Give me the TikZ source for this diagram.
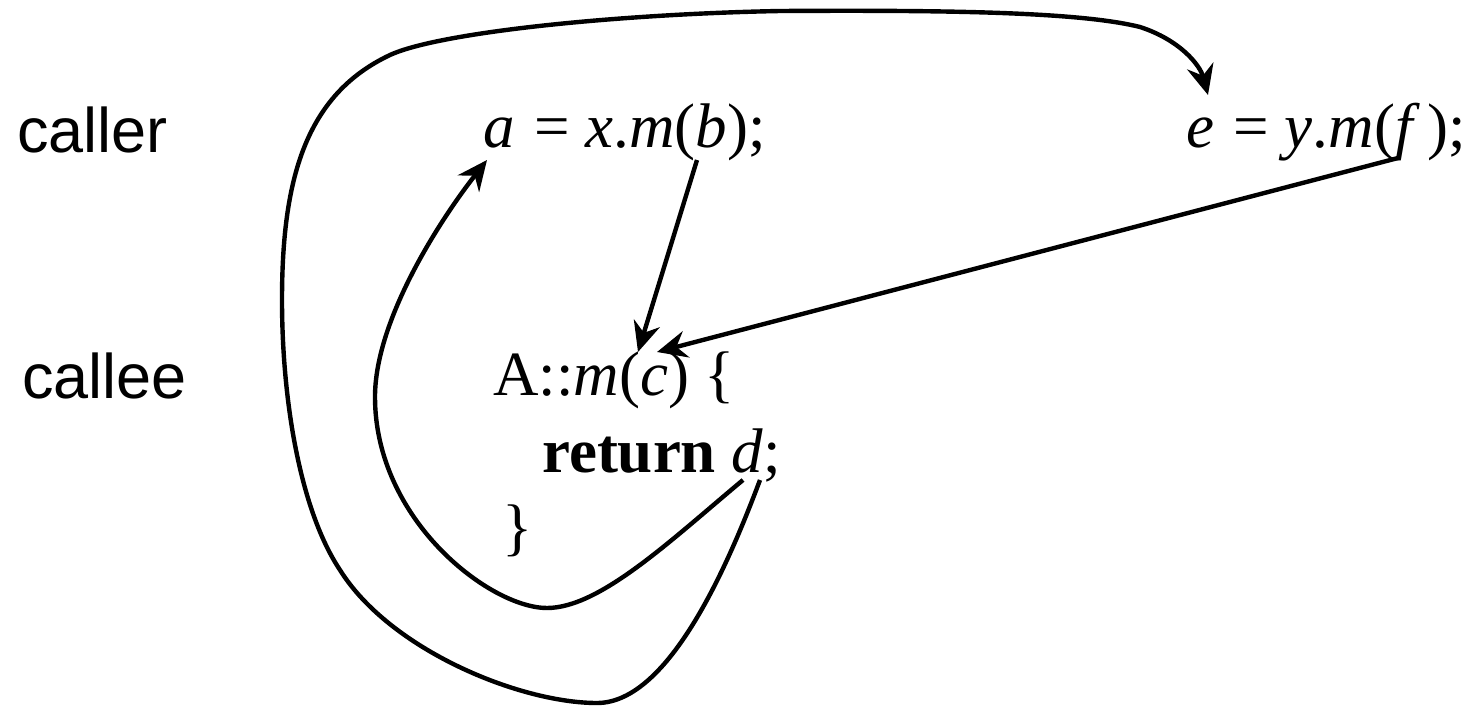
\documentclass[tikz,border=0pt]{standalone}
\usepackage{fontspec}
\setmainfont{Liberation Serif}
\newfontfamily\labelfont{Liberation Sans}
\usetikzlibrary{arrows.meta}
\tikzset{
  codetext/.style={anchor=base west, inner sep=0pt, font=\fontsize{63}{76}\selectfont},
  sidetext/.style={anchor=base west, inner sep=0pt, font=\labelfont\fontsize{63}{76}\selectfont},
  flow/.style={line width=4.4pt, -{Stealth[length=30pt, width=27pt, inset=10pt]}},
}
\begin{document}
\begin{tikzpicture}[x=1pt, y=-1pt]
\useasboundingbox (0,0) rectangle (1473,707);
% labels
\node[sidetext] (caller) at (17,152) {caller};
\node[sidetext] (callee) at (22,398) {callee};
% caller code
\node[codetext] (call1) at (483,147) {\textit{a}\kern0.06em{} = \textit{x}.\textit{m}(\textit{b});};
\node[codetext] (call2) at (1186,147) {\textit{e}\kern0.06em{} = \textit{y}.\textit{m}(\textit{f}\kern0.12em);};
% callee code
\node[codetext] (head) at (493,395) {A::\textit{m}(\textit{c}) \{};
\node[codetext] (ret) at (542,472) {\textbf{return} \textit{d};};
\node[codetext] (close) at (502,548) {\}};
% endpoints
\coordinate (aIn) at (487,160);
\coordinate (bOut) at (697,160);
\coordinate (cIn1) at (638,352);
\coordinate (cIn2) at (657,352);
\coordinate (fOut) at (1398,158);
\coordinate (dOut1) at (743,480);
\coordinate (dOut2) at (760,480);
\coordinate (eIn) at (1208,95);
% arrows
\draw[flow] (bOut) -- (cIn1);
\draw[flow] (fOut) -- (cIn2);
\draw[flow] (dOut1) .. controls (671,540) and (600,608) .. (547,608)
  .. controls (490,608) and (375,520) .. (375,397)
  .. controls (375,320) and (440,220) .. (aIn);
\draw[flow] (dOut2) .. controls (730,560) and (670,703) .. (597,703)
  .. controls (520,703) and (390,650) .. (340,570)
  .. controls (300,510) and (282,400) .. (282,300)
  .. controls (282,180) and (305,95) .. (390,55)
  .. controls (440,32) and (620,14) .. (780,11)
  .. controls (950,10) and (1080,12) .. (1140,27)
  .. controls (1180,40) and (1200,65) .. (eIn);
\end{tikzpicture}
\end{document}
